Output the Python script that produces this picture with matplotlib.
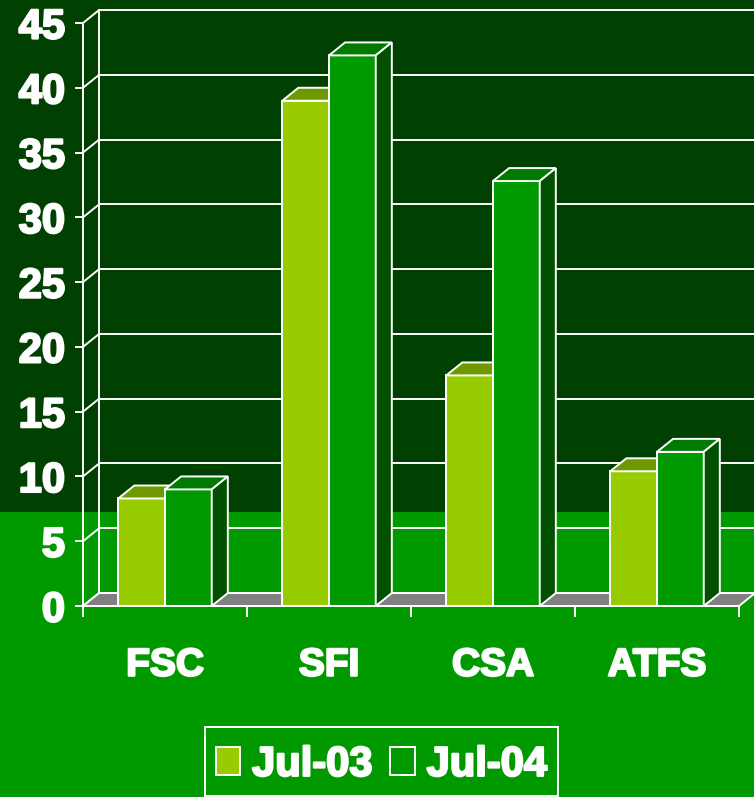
import numpy as np
import matplotlib.pyplot as plt
import matplotlib.patheffects as pe
from matplotlib.patches import Polygon, Rectangle

categories = ['FSC', 'SFI', 'CSA', 'ATFS']
series_labels = ['Jul-03', 'Jul-04']
jul03 = [8.3, 39.0, 17.8, 10.4]
jul04 = [9.0, 42.5, 32.8, 11.9]
y_ticks = [0, 5, 10, 15, 20, 25, 30, 35, 40, 45]

plt.rcParams['font.family'] = ['Liberation Sans', 'DejaVu Sans']
plt.rcParams['font.weight'] = 'bold'

dark_bg = '#004000'
light_bg = '#009900'
c03, c03_top = '#99CC00', '#6E9900'
c04, c04_top, c04_side = '#009900', '#007A00', '#005000'
floor = '#808080'
lw = 1.4

# depth of the fake 3d effect, in data units
dx, dy = 0.098, 1.0
w = 0.285

fig = plt.figure(figsize=(7.54, 7.97), dpi=100, facecolor=light_bg)
fig.patches.append(Rectangle((0, 1 - 512 / 797), 1, 512 / 797, transform=fig.transFigure,
                             facecolor=dark_bg, edgecolor='none', zorder=-10))

ax = fig.add_axes([83 / 754, 1 - 606 / 797, 656 / 754, 583 / 797])
ax.set_facecolor('none')
x = np.arange(len(categories))
x0, x1 = -0.5, len(categories) - 0.5
ax.set_xlim(x0, x1)
ax.set_ylim(0, 45)

# back wall grid + side wall diagonals
for v in y_ticks:
    ax.plot([x0 + dx, x1 + dx], [v + dy, v + dy], color='white', lw=lw, zorder=1, clip_on=False)
    ax.plot([x0, x0 + dx], [v, v + dy], color='white', lw=lw, zorder=1, clip_on=False)
ax.plot([x0 + dx, x0 + dx], [dy, 45 + dy], color='white', lw=lw, zorder=1, clip_on=False)

# floor
ax.add_patch(Polygon([(x0, 0), (x1, 0), (x1 + dx, dy), (x0 + dx, dy)], closed=True,
                     facecolor=floor, edgecolor='white', lw=lw, zorder=2, clip_on=False))


def bars3d(left, heights, front, top, side, z):
    ax.bar(left, heights, width=w, align='edge', color=front, edgecolor='white',
           linewidth=lw, zorder=z, clip_on=False)
    for l, h in zip(left, heights):
        ax.add_patch(Polygon([(l, h), (l + w, h), (l + w + dx, h + dy), (l + dx, h + dy)],
                             closed=True, facecolor=top, edgecolor='white', lw=lw,
                             zorder=z, clip_on=False))
        ax.add_patch(Polygon([(l + w, 0), (l + w, h), (l + w + dx, h + dy), (l + w + dx, dy)],
                             closed=True, facecolor=side, edgecolor='white', lw=lw,
                             zorder=z, clip_on=False))


bars3d(x - w, jul03, c03, c03_top, c03_top, 4)
bars3d(x, jul04, c04, c04_top, c04_side, 6)

for s in ['top', 'right']:
    ax.spines[s].set_visible(False)
for s in ['left', 'bottom']:
    ax.spines[s].set_color('white')
    ax.spines[s].set_linewidth(lw)
    ax.spines[s].set_zorder(8)

ax.set_yticks(y_ticks)
ax.tick_params(axis='y', colors='white', labelsize=30, length=6, width=lw, pad=7)
ax.set_xticks(x, categories)
ax.set_xticks(np.arange(x0, x1 + 0.1, 1), minor=True)
ax.tick_params(axis='x', which='major', length=0, pad=30, labelsize=28, labelcolor='white')
ax.tick_params(axis='x', which='minor', length=8, width=lw, color='white')

handles = [Rectangle((0, 0), 1, 1, facecolor=c03, edgecolor='white', lw=lw),
           Rectangle((0, 0), 1, 1, facecolor=c04, edgecolor='white', lw=lw)]
# a tiny blank title just adds room above the entries
leg = fig.legend(handles, series_labels, loc='upper left', bbox_to_anchor=(205 / 754, 1 - 727 / 797),
                 ncol=2, fontsize=30, labelcolor='white', frameon=True, fancybox=False,
                 edgecolor='white', facecolor='none', framealpha=1, handlelength=0.58,
                 handleheight=0.65, handletextpad=0.29, columnspacing=0.43, borderpad=0.26,
                 borderaxespad=0, labelspacing=0, title=' ', title_fontsize=5)
leg.get_frame().set_linewidth(lw)

# the original font is heavier than Liberation bold, thicken it a bit
heavy = [pe.withStroke(linewidth=1.6, foreground='white')]
for t in ax.get_xticklabels() + ax.get_yticklabels() + leg.get_texts():
    t.set_path_effects(heavy)

fig.savefig('out.png', dpi=100, facecolor=fig.get_facecolor())
